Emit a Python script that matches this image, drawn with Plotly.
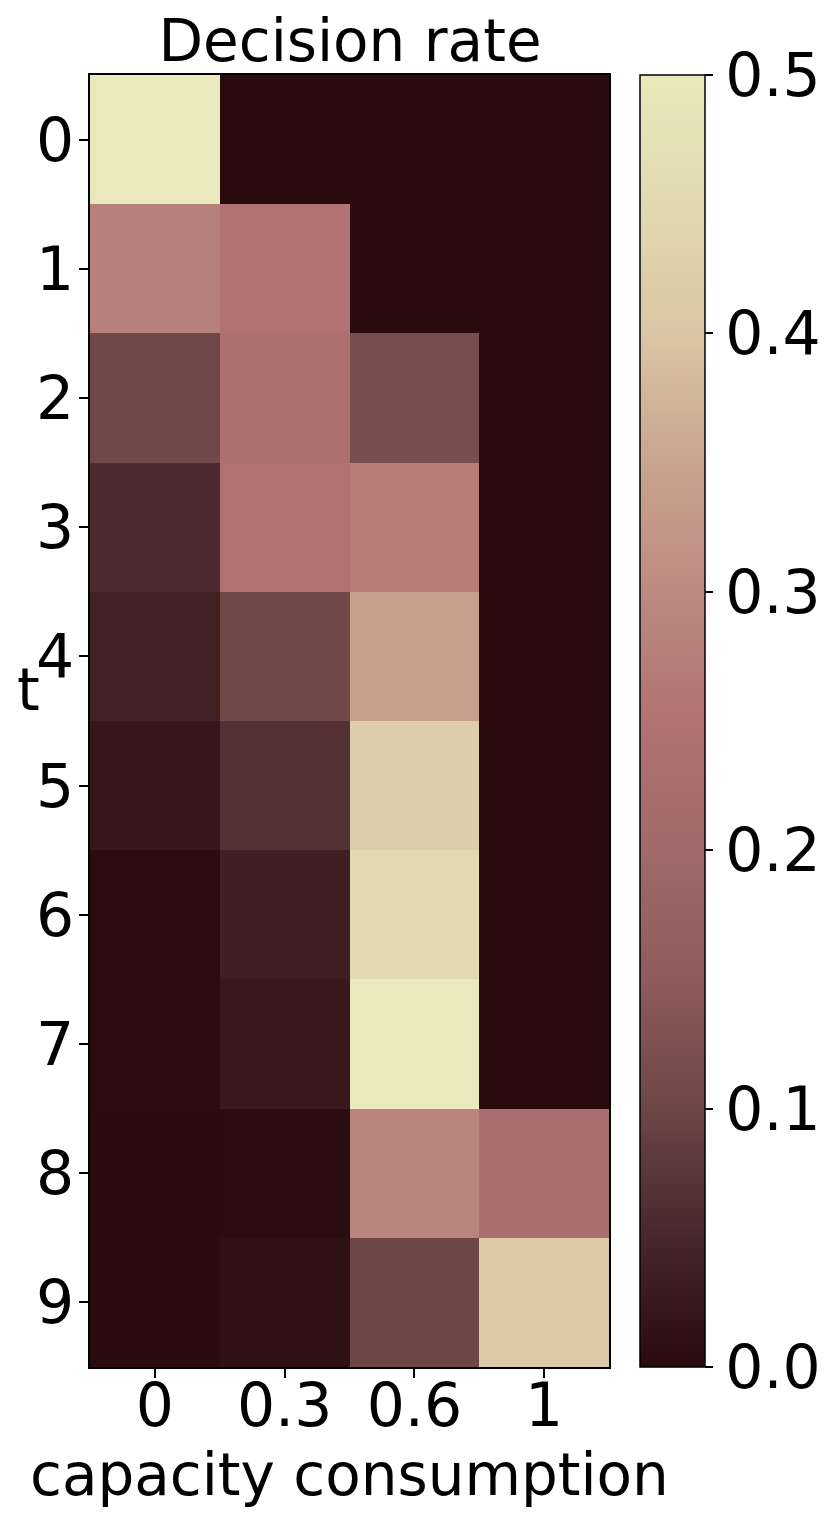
import plotly.graph_objects as go

capacity = ["0", "0.3", "0.6", "1"]
t_steps = ["0", "1", "2", "3", "4", "5", "6", "7", "8", "9"]
rate = [
    [0.500, 0.000, 0.000, 0.000],
    [0.280, 0.250, 0.000, 0.000],
    [0.105, 0.235, 0.115, 0.000],
    [0.055, 0.250, 0.270, 0.000],
    [0.040, 0.105, 0.340, 0.000],
    [0.020, 0.065, 0.420, 0.000],
    [0.004, 0.035, 0.450, 0.000],
    [0.003, 0.025, 0.500, 0.000],
    [0.001, 0.003, 0.290, 0.225],
    [0.002, 0.010, 0.100, 0.410],
]
cbar_ticks = [0.0, 0.1, 0.2, 0.3, 0.4, 0.5]

colorscale = [
    [0.00, "#290b0d"],
    [0.10, "#48272a"],
    [0.20, "#6e4646"],
    [0.30, "#8e5c5c"],
    [0.40, "#a26a6a"],
    [0.50, "#b07272"],
    [0.60, "#bc8a82"],
    [0.70, "#c8a48e"],
    [0.80, "#dac6a4"],
    [0.90, "#e2d8b2"],
    [1.00, "#eae8bc"],
]

FONT = "DejaVu Sans"
FS_TICK = 60
FS_LABEL = 58

# page body adds an 8px offset; positions below are in figure coordinates
OFF = 8
L, R, T, B = 90 - OFF, 609 - OFF, 75 - OFF, 1367 - OFF
PW, PH = R - L, B - T

fig = go.Figure(
    go.Heatmap(
        z=rate,
        x=capacity,
        y=t_steps,
        zmin=0,
        zmax=0.5,
        colorscale=colorscale,
        colorbar=dict(
            x=(640 - OFF - L) / PW,
            xanchor="left",
            xpad=0,
            ypad=0,
            y=0.5,
            len=1,
            lenmode="fraction",
            thickness=65,
            outlinewidth=1.5,
            outlinecolor="black",
            tickvals=cbar_ticks,
            ticktext=[f"{v:.1f}" for v in cbar_ticks],
            ticks="outside",
            ticklen=8,
            tickwidth=1.5,
            tickcolor="black",
            tickfont=dict(family=FONT, size=FS_TICK, color="black"),
        ),
    )
)

fig.update_layout(
    width=831,
    height=1524,
    margin=dict(l=L, r=831 - R, t=T, b=1524 - B, autoexpand=False),
    paper_bgcolor="white",
    plot_bgcolor="white",
    font=dict(family=FONT, size=FS_LABEL, color="black"),
    title=dict(
        text="Decision rate",
        x=(350 - OFF - L) / PW,
        xref="paper",
        xanchor="center",
        y=1 - 33 / 1524,
        yref="container",
        yanchor="middle",
        font=dict(family=FONT, size=FS_LABEL, color="black"),
    ),
    xaxis=dict(
        type="category",
        showline=True,
        mirror=True,
        linecolor="black",
        linewidth=1.5,
        ticks="outside",
        ticklen=9,
        tickwidth=1.5,
        tickcolor="black",
        ticklabelstandoff=-24,
        showgrid=False,
        zeroline=False,
        tickfont=dict(family=FONT, size=FS_TICK, color="black"),
    ),
    yaxis=dict(
        type="category",
        autorange="reversed",
        showline=True,
        mirror=True,
        linecolor="black",
        linewidth=1.5,
        ticks="outside",
        ticklen=9,
        tickwidth=1.5,
        tickcolor="black",
        ticklabelstandoff=-7,
        showgrid=False,
        zeroline=False,
        tickfont=dict(family=FONT, size=FS_TICK, color="black"),
    ),
    annotations=[
        dict(
            text="capacity consumption",
            xref="paper",
            yref="paper",
            x=(349 - OFF - L) / PW,
            y=-(1475 - OFF - B) / PH,
            xanchor="center",
            yanchor="middle",
            showarrow=False,
            font=dict(family=FONT, size=FS_LABEL, color="black"),
        ),
        dict(
            text="t",
            xref="paper",
            yref="paper",
            x=-(L - (28 - OFF)) / PW,
            y=1 - (690 - OFF - T) / PH,
            xanchor="center",
            yanchor="middle",
            showarrow=False,
            font=dict(family=FONT, size=FS_LABEL, color="black"),
        ),
    ],
)

fig.write_html("out.html")
